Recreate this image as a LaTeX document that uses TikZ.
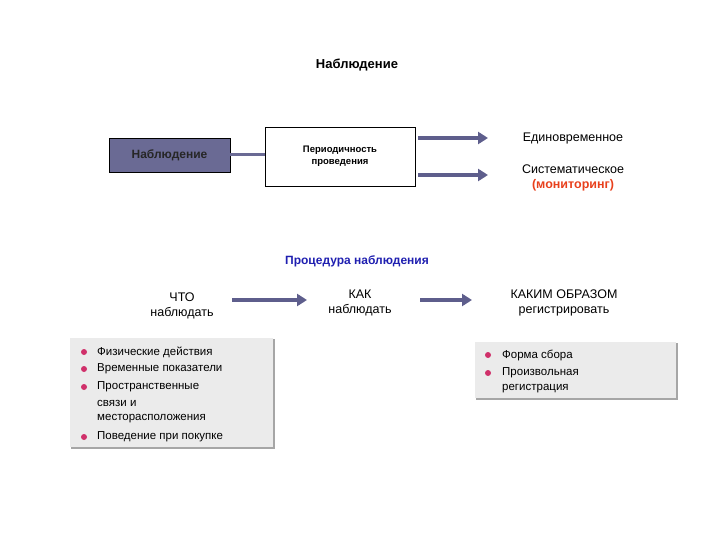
\documentclass[tikz,border=0pt]{standalone}
\usepackage{fontspec}
\setmainfont{Liberation Sans}
\usetikzlibrary{arrows.meta}
\definecolor{slate}{HTML}{6A6A94}
\definecolor{arr}{HTML}{5E5E8C}
\definecolor{ttl}{HTML}{1F1FB0}
\definecolor{redt}{HTML}{E8401C}
\definecolor{boxg}{HTML}{EBEBEB}
\definecolor{bul}{HTML}{D0306A}
\tikzset{
  fatarrow/.style={arr, line width=4pt, -{Triangle[length=10pt,width=12pt]}},
  lbl/.style={align=center, font=\fontsize{12.5}{15}\selectfont, inner sep=0pt},
  graybox/.style={fill=boxg, draw=none},
  shadowline/.style={draw=gray!70, line width=1.5pt},
  bullet/.style={circle, fill=bul, inner sep=0pt, minimum size=6pt},
  item/.style={anchor=west, font=\fontsize{11.5}{13}\selectfont, inner sep=0pt, align=left}
}
\begin{document}
\begin{tikzpicture}[x=1pt,y=-1pt]
\useasboundingbox (0,0) rectangle (720,540);
\node[font=\bfseries\fontsize{13}{15}\selectfont] (title) at (357,65) {Наблюдение};
\node[draw=black, fill=slate, minimum width=121pt, minimum height=34pt, font=\bfseries\fontsize{12}{14}\selectfont, text=black!85] (obs) at (169.5,155) {Наблюдение};
\node[draw=black, fill=white, minimum width=150pt, minimum height=59pt, align=center, font=\bfseries\fontsize{9.5}{12}\selectfont] (per) at (340,156.5) {Периодичность\\проведения};
\draw[slate, line width=3pt] (obs.east) -- (obs.east -| per.west);
\node[lbl] (one) at (573,138) {Единовременное};
\node[lbl, align=center] (sys) at (573,178) {Систематическое\\\textcolor{redt}{\bfseries(мониторинг)}};
\coordinate (a1s) at (418,138); \coordinate (a1e) at (488,138);
\coordinate (a2s) at (418,175); \coordinate (a2e) at (488,175);
\draw[fatarrow] (a1s) -- (a1e);
\draw[fatarrow] (a2s) -- (a2e);
\node[font=\bfseries\fontsize{12}{14}\selectfont, text=ttl] (proc) at (357,261) {Процедура наблюдения};
\node[lbl] (what) at (182,306) {ЧТО\\наблюдать};
\node[lbl] (how) at (360,303) {КАК\\наблюдать};
\node[lbl] (way) at (564,303) {КАКИМ ОБРАЗОМ\\регистрировать};
\draw[fatarrow] (232,300) -- (307,300);
\draw[fatarrow] (420,300) -- (472,300);
% left box
\path[graybox] (70,338) rectangle (273,447);
\draw[shadowline] (274,339) -- (274,448) -- (71,448);
\foreach \y/\t in {352/{Физические действия},369/{Временные показатели},387/{Пространственные}}
  {\node[bullet] at (84,\y) {}; \node[item] at (97,\y) {\t};}
\node[item] at (97,403) {связи и};
\node[item] at (97,419) {месторасположения};
\node[bullet] at (84,437) {}; \node[item] at (97,437) {Поведение при покупке};
% right box
\path[graybox] (475,342) rectangle (676,398);
\draw[shadowline] (677,343) -- (677,399) -- (476,399);
\node[bullet] at (488,355) {}; \node[item] at (502,355) {Форма сбора};
\node[bullet] at (488,373) {}; \node[item] at (502,373) {Произвольная};
\node[item] at (502,389) {регистрация};
\end{tikzpicture}
\end{document}
